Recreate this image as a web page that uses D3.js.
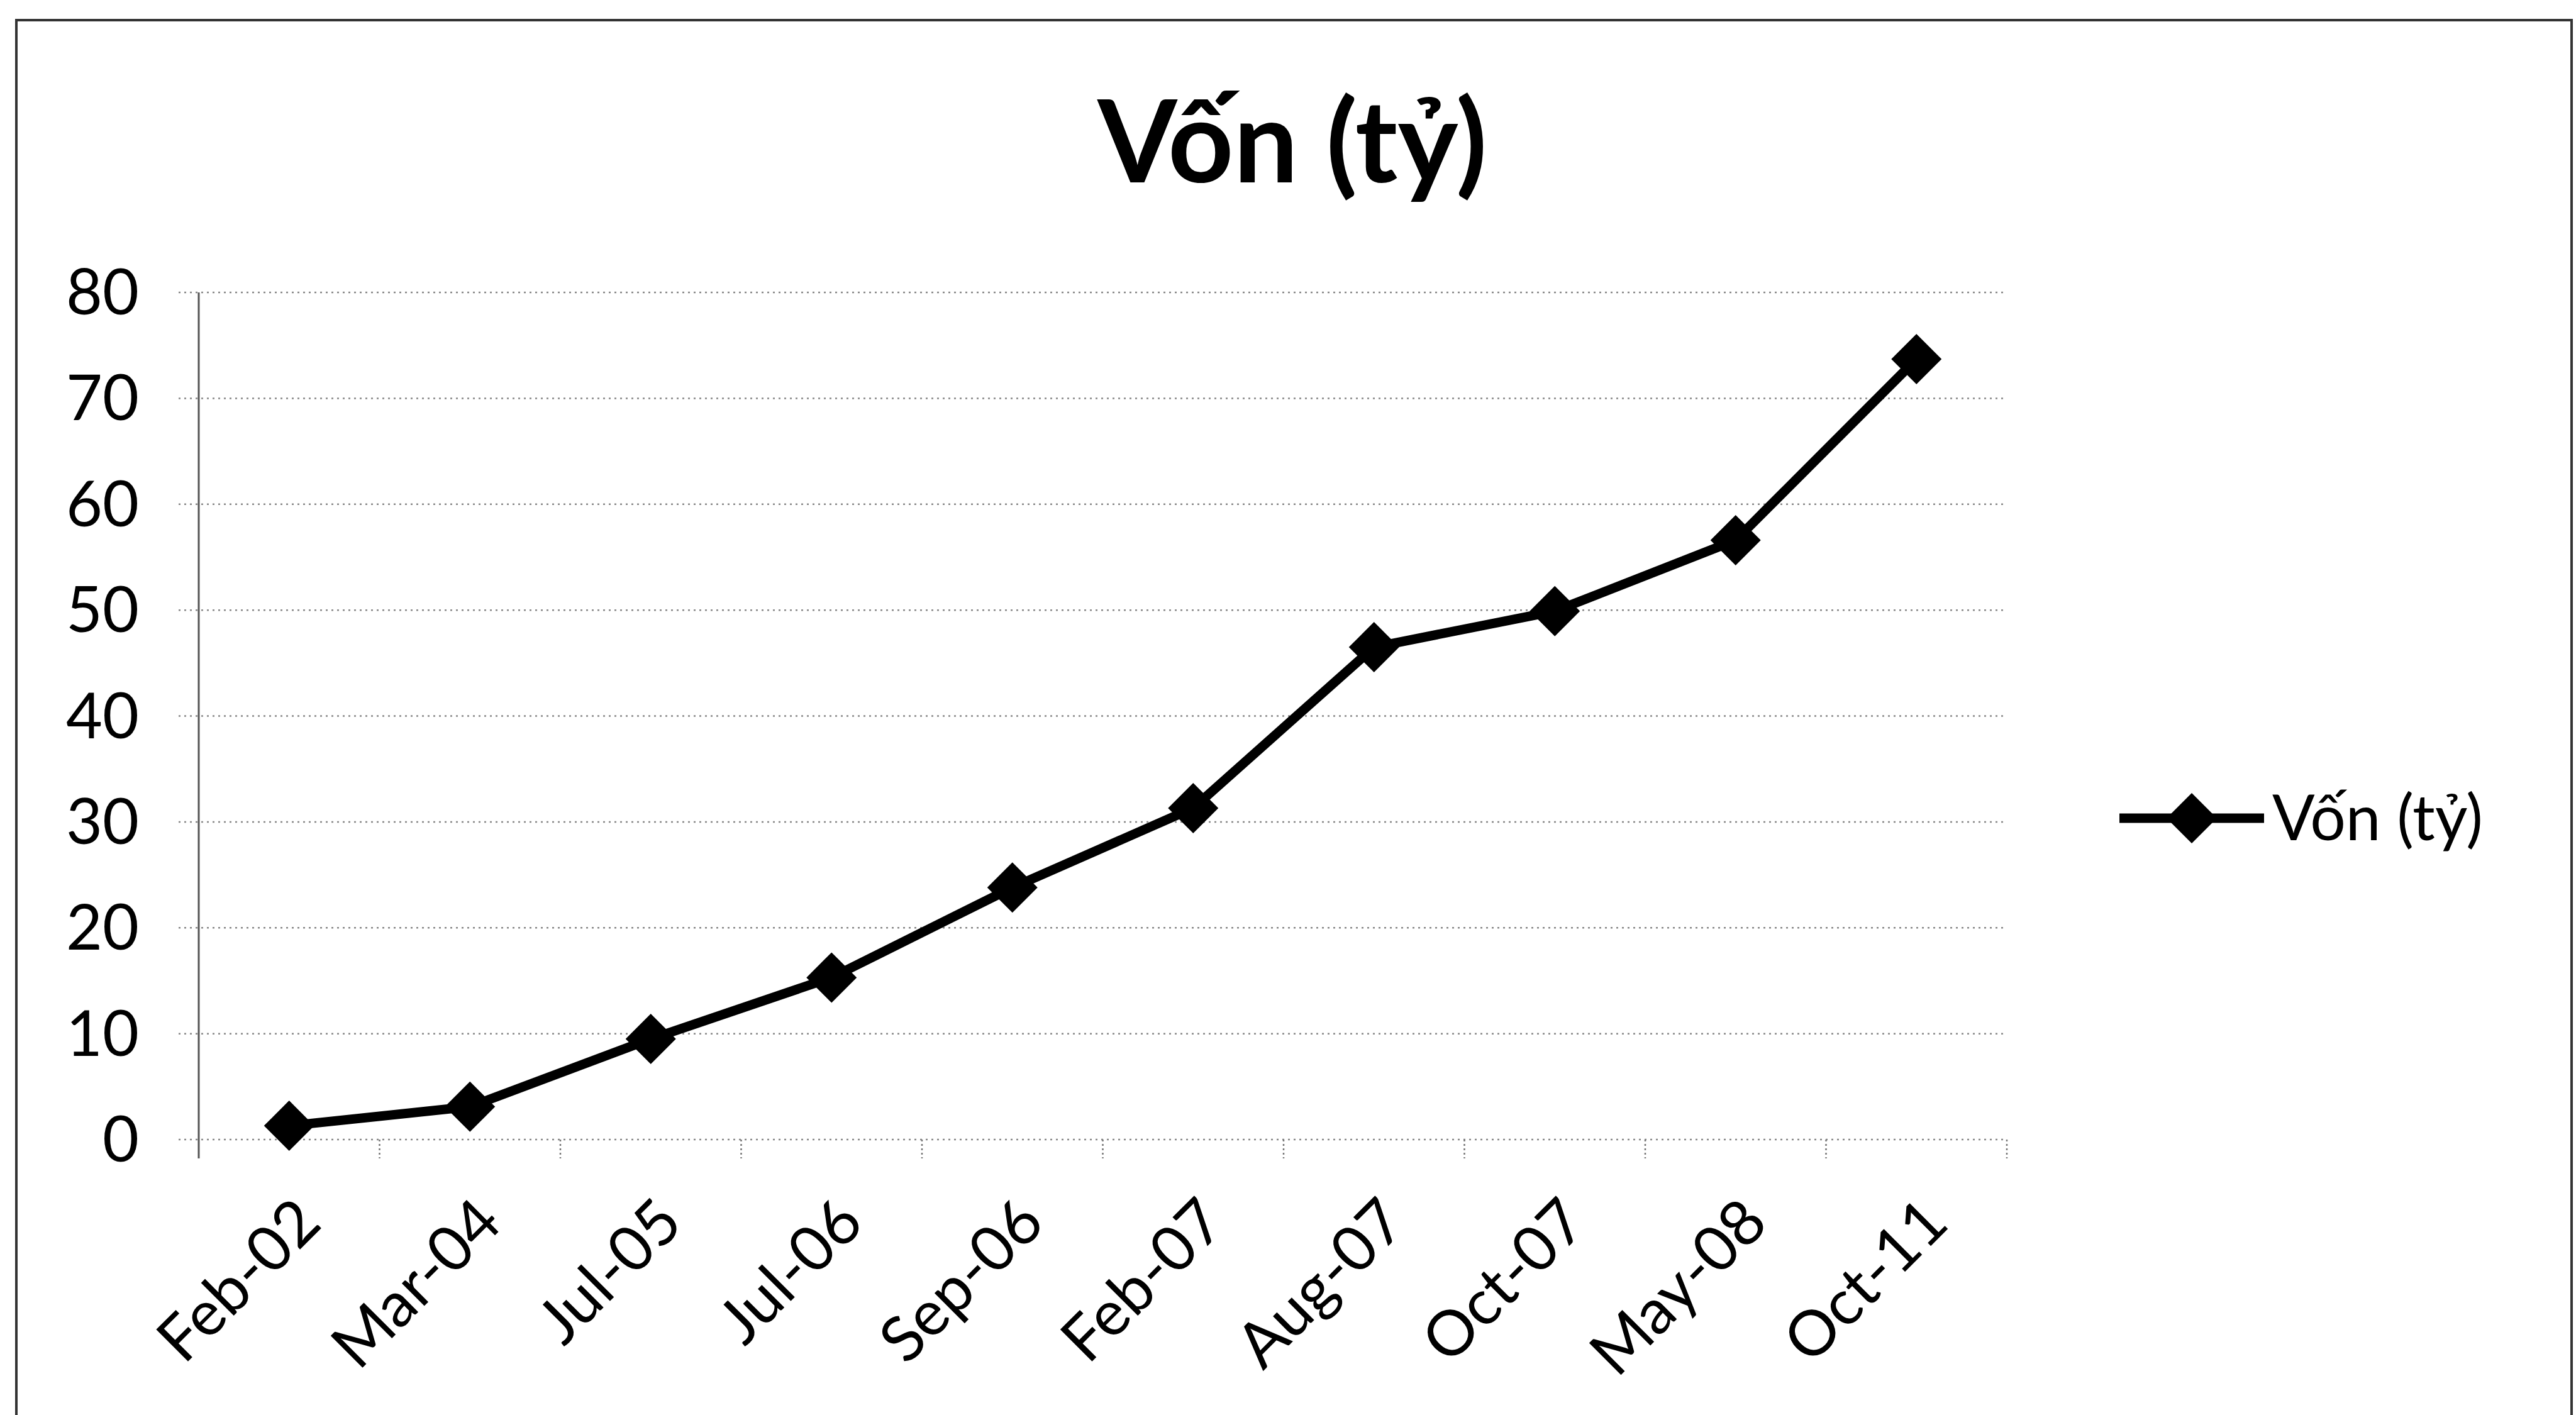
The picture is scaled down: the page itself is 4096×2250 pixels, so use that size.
<!DOCTYPE html>
<html>

<head>
  <meta charset="utf-8">
  <title>Vốn (tỷ)</title>
  <script type="text/javascript" src="https://cdn.jsdelivr.net/npm/d3@7"></script>
  <style>
    body { margin: 0; background: #fff; }
    svg { display: block; }
    text { font-family: Lato, "Noto Sans", sans-serif; fill: #000; }
  </style>
</head>

<body>

<script>

// the data
var categories = ["Feb-02", "Mar-04", "Jul-05", "Jul-06", "Sep-06", "Feb-07", "Aug-07", "Oct-07", "May-08", "Oct-11"];
var values = [1.3, 3.1, 9.5, 15.3, 23.8, 31.3, 46.5, 49.9, 56.6, 73.7];
var yTicks = [0, 10, 20, 30, 40, 50, 60, 70, 80];
var seriesName = "Vốn (tỷ)";
var chartTitle = "Vốn (tỷ)";

// window size
var w = 4096;
var h = 2250;

// plot box (don't call these top/left, window.top is taken)
var plotLeft = 316;
var plotRight = 3191;
var plotTop = 465;
var plotBottom = 1812;

var svg = d3.select("body")
  .append("svg")
  .attr("width", w)
  .attr("height", h);

// outer chart border (bottom edge runs off the page like the scan)
svg.append("rect")
  .attr("x", 26)
  .attr("y", 32)
  .attr("width", 4063)
  .attr("height", h)
  .attr("fill", "none")
  .attr("stroke", "#333")
  .attr("stroke-width", 4);

var x = d3.scaleBand()
  .domain(categories)
  .range([plotLeft, plotRight]);

var y = d3.scaleLinear()
  .domain([0, 80])
  .range([plotBottom, plotTop]);

// title
svg.append("text")
  .attr("x", 2055)
  .attr("y", 290)
  .attr("text-anchor", "middle")
  .attr("font-size", "182px")
  .attr("font-weight", "bold")
  .text(chartTitle);

// dotted gridlines, they poke out left of the axis as tick marks
svg.selectAll(".grid")
  .data(yTicks)
  .enter()
  .append("line")
  .attr("class", "grid")
  .attr("x1", plotLeft - 32)
  .attr("x2", plotRight)
  .attr("y1", function(d){ return y(d); })
  .attr("y2", function(d){ return y(d); })
  .attr("stroke", "#888")
  .attr("stroke-width", 2.5)
  .attr("stroke-dasharray", "3,6");

// y axis line
svg.append("line")
  .attr("x1", plotLeft)
  .attr("x2", plotLeft)
  .attr("y1", plotTop)
  .attr("y2", plotBottom + 30)
  .attr("stroke", "#555")
  .attr("stroke-width", 3);

// y labels
svg.selectAll(".ylab")
  .data(yTicks)
  .enter()
  .append("text")
  .attr("class", "ylab")
  .attr("x", 221)
  .attr("y", function(d){ return y(d); })
  .attr("dy", "0.35em")
  .attr("text-anchor", "end")
  .attr("font-size", "100px")
  .text(function(d){ return d; });

// x tick marks on the category boundaries
var bounds = categories.map(function(d){ return x(d) + x.bandwidth(); });
svg.selectAll(".xtick")
  .data(bounds)
  .enter()
  .append("line")
  .attr("class", "xtick")
  .attr("x1", function(d){ return d; })
  .attr("x2", function(d){ return d; })
  .attr("y1", plotBottom)
  .attr("y2", plotBottom + 30)
  .attr("stroke", "#777")
  .attr("stroke-width", 2.5)
  .attr("stroke-dasharray", "3,4");

// x labels at -45 degrees
svg.selectAll(".xlab")
  .data(categories)
  .enter()
  .append("text")
  .attr("class", "xlab")
  .attr("text-anchor", "end")
  .attr("font-size", "100px")
  .attr("transform", function(d){
    var cx = x(d) + x.bandwidth() / 2 + 55;
    return "translate(" + cx + "," + (plotBottom + 137) + ") rotate(-45)";
  })
  .text(function(d){ return d; });

// the line
var line = d3.line()
  .x(function(d, i){ return x(categories[i]) + x.bandwidth() / 2; })
  .y(function(d){ return y(d); });

svg.append("path")
  .datum(values)
  .attr("d", line)
  .attr("fill", "none")
  .attr("stroke", "#000")
  .attr("stroke-width", 15)
  .attr("stroke-linejoin", "round");

// diamond markers
var diamond = d3.symbol().type(d3.symbolSquare).size(3200);

svg.selectAll(".pt")
  .data(values)
  .enter()
  .append("path")
  .attr("class", "pt")
  .attr("d", diamond)
  .attr("transform", function(d, i){
    return "translate(" + (x(categories[i]) + x.bandwidth() / 2) + "," + y(d) + ") rotate(45)";
  })
  .attr("fill", "#000");

// legend
var legY = 1301;
svg.append("line")
  .attr("x1", 3370)
  .attr("x2", 3600)
  .attr("y1", legY)
  .attr("y2", legY)
  .attr("stroke", "#000")
  .attr("stroke-width", 15);

svg.append("path")
  .attr("d", diamond)
  .attr("transform", "translate(3485," + legY + ") rotate(45)")
  .attr("fill", "#000");

svg.append("text")
  .attr("x", 3613)
  .attr("y", legY)
  .attr("dy", "0.35em")
  .attr("font-size", "100px")
  .text(seriesName);

</script>

</body>

</html>
